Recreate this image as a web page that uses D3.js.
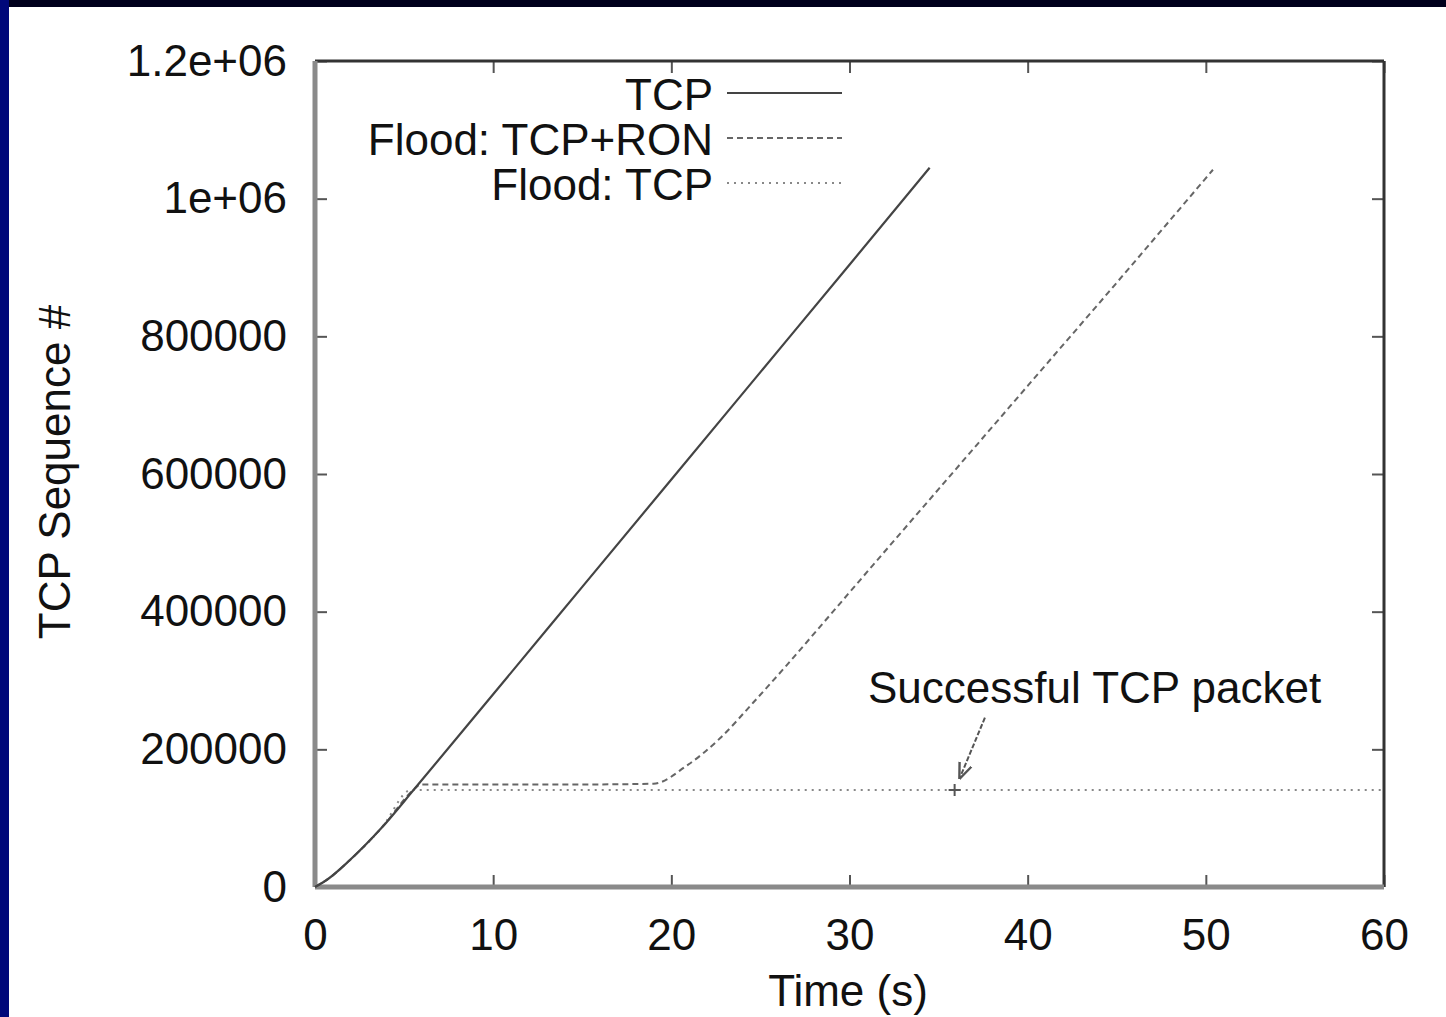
<!DOCTYPE html>
<html>
<head>
<meta charset="utf-8">
<script src="https://cdn.jsdelivr.net/npm/d3@7"></script>
<style>
  html, body { margin: 0; padding: 0; background: #ffffff; overflow: hidden; }
  svg { display: block; }
  text { font-family: "Liberation Sans", Arial, sans-serif; fill: #111; }
</style>
</head>
<body>
<script>
// data
var tcpTime = [0, 0.75, 1.87, 3.74, 5.6, 10, 15, 20, 25, 30, 34.5];
var tcpSeq = [0, 12000, 37000, 86000, 143000, 280000, 436000, 592000, 748000, 904000, 1045000];

var ronTime = [0, 0.75, 1.87, 3.74, 5.6, 5.9, 10, 15, 19, 20.85, 22.73, 24.6, 26.47, 28.34, 31.33, 35, 40, 45, 50.4];
var ronSeq = [0, 12000, 37000, 86000, 143000, 149000, 149000, 149000, 150000, 176000, 216000, 268000, 322000, 378000, 468000, 578000, 728000, 878000, 1042000];

var floodTime = [0, 0.75, 1.87, 3.74, 5.4, 60];
var floodSeq = [0, 12000, 37000, 86000, 141000, 141000];

var packetTime = [35.9];
var packetSeq = [141000];

var xTicks = [0, 10, 20, 30, 40, 50, 60];
var yTicks = [0, 200000, 400000, 600000, 800000, 1000000, 1200000];
var yTickLabels = ["0", "200000", "400000", "600000", "800000", "1e+06", "1.2e+06"];

var legendNames = ["TCP", "Flood: TCP+RON", "Flood: TCP"];

var svg = d3.select("body").append("svg")
    .attr("width", 1446)
    .attr("height", 1017);

svg.append("rect").attr("width", 1446).attr("height", 1017).attr("fill", "#fff");
// slide frame
svg.append("rect").attr("x", 0).attr("y", 0).attr("width", 1446).attr("height", 7).attr("fill", "#00001c");
svg.append("rect").attr("x", 0).attr("y", 0).attr("width", 9).attr("height", 1017).attr("fill", "#00087a");

var x = d3.scaleLinear().domain([0, 60]).range([315, 1384]);
var y = d3.scaleLinear().domain([0, 1200000]).range([887, 61]);

// axes with inward ticks, mirrored on top/right
svg.append("g")
    .attr("class", "axis")
    .attr("transform", "translate(0,887)")
    .call(d3.axisBottom(x).tickValues(xTicks).tickSize(-12).tickPadding(32).tickFormat(d3.format("d")));
svg.append("g")
    .attr("class", "axis")
    .attr("transform", "translate(315,0)")
    .call(d3.axisLeft(y).tickValues(yTicks).tickSize(-12).tickPadding(28)
        .tickFormat(function(d, i) { return yTickLabels[i]; }));
svg.append("g")
    .attr("class", "axis mirror")
    .attr("transform", "translate(0,61)")
    .call(d3.axisTop(x).tickValues(xTicks).tickSize(-12).tickFormat(""));
svg.append("g")
    .attr("class", "axis mirror")
    .attr("transform", "translate(1384,0)")
    .call(d3.axisRight(y).tickValues(yTicks).tickSize(-12).tickFormat(""));

svg.selectAll(".axis path").remove();
svg.selectAll(".axis line").attr("stroke", "#555").attr("stroke-width", 2);
svg.selectAll(".axis text")
    .attr("font-size", 44)
    .style("font-family", "'Liberation Sans', Arial, sans-serif")
    .attr("fill", "#111");

// frame
svg.append("line").attr("x1", 315).attr("x2", 1384).attr("y1", 61).attr("y2", 61)
    .attr("stroke", "#333").attr("stroke-width", 3);
svg.append("line").attr("x1", 1384).attr("x2", 1384).attr("y1", 61).attr("y2", 887)
    .attr("stroke", "#333").attr("stroke-width", 3);
svg.append("line").attr("x1", 315).attr("x2", 1384).attr("y1", 887).attr("y2", 887)
    .attr("stroke", "#8a8a8a").attr("stroke-width", 5);
svg.append("line").attr("x1", 315).attr("x2", 315).attr("y1", 61).attr("y2", 887)
    .attr("stroke", "#8a8a8a").attr("stroke-width", 5);

var line = d3.line()
    .x(function(d) { return x(d[0]); })
    .y(function(d) { return y(d[1]); })
    .curve(d3.curveMonotoneX);

var styles = [
    { stroke: "#444", width: 2.2, dash: null },
    { stroke: "#666", width: 2, dash: "6,4" },
    { stroke: "#888", width: 2, dash: "2,5" }
];

svg.append("path")
    .datum(d3.zip(floodTime, floodSeq))
    .attr("d", line)
    .attr("fill", "none")
    .attr("stroke", styles[2].stroke)
    .attr("stroke-width", styles[2].width)
    .attr("stroke-dasharray", styles[2].dash);

svg.append("path")
    .datum(d3.zip(ronTime, ronSeq))
    .attr("d", line)
    .attr("fill", "none")
    .attr("stroke", styles[1].stroke)
    .attr("stroke-width", styles[1].width)
    .attr("stroke-dasharray", styles[1].dash);

svg.append("path")
    .datum(d3.zip(tcpTime, tcpSeq))
    .attr("d", line)
    .attr("fill", "none")
    .attr("stroke", styles[0].stroke)
    .attr("stroke-width", styles[0].width);

// successful packet marker
svg.selectAll(".pkt")
    .data(d3.zip(packetTime, packetSeq))
    .enter().append("path")
    .attr("class", "pkt")
    .attr("d", function(d) {
        var px = x(d[0]), py = y(d[1]);
        return "M" + (px - 6) + "," + py + "H" + (px + 6) + "M" + px + "," + (py - 6) + "V" + (py + 6);
    })
    .attr("stroke", "#555")
    .attr("stroke-width", 2);

// legend
var legend = svg.append("g");
legendNames.forEach(function(name, i) {
    legend.append("text")
        .attr("x", 713)
        .attr("y", 110 + i * 45)
        .attr("text-anchor", "end")
        .attr("font-size", 44)
        .text(name);
    legend.append("line")
        .attr("x1", 727).attr("x2", 842)
        .attr("y1", 93 + i * 45).attr("y2", 93 + i * 45)
        .attr("stroke", styles[i].stroke)
        .attr("stroke-width", styles[i].width)
        .attr("stroke-dasharray", styles[i].dash);
});

// annotation
svg.append("text")
    .attr("x", 868)
    .attr("y", 703)
    .attr("font-size", 44)
    .text("Successful TCP packet");

svg.append("defs").append("marker")
    .attr("id", "head")
    .attr("viewBox", "0 0 10 10")
    .attr("refX", 9).attr("refY", 5)
    .attr("markerWidth", 8).attr("markerHeight", 8)
    .attr("orient", "auto")
    .append("path")
    .attr("d", "M0,1L10,5L0,9")
    .attr("fill", "none")
    .attr("stroke", "#555")
    .attr("stroke-width", 1.5);

svg.append("line")
    .attr("x1", x(37.6)).attr("y1", y(246000))
    .attr("x2", x(36.2)).attr("y2", y(159000))
    .attr("stroke", "#555")
    .attr("stroke-width", 2)
    .attr("stroke-dasharray", "5,2")
    .attr("marker-end", "url(#head)");

// axis titles
svg.append("text")
    .attr("x", 848)
    .attr("y", 1006)
    .attr("text-anchor", "middle")
    .attr("font-size", 44)
    .text("Time (s)");

svg.append("text")
    .attr("transform", "translate(70,472) rotate(-90)")
    .attr("text-anchor", "middle")
    .attr("font-size", 44)
    .text("TCP Sequence #");
</script>
</body>
</html>
